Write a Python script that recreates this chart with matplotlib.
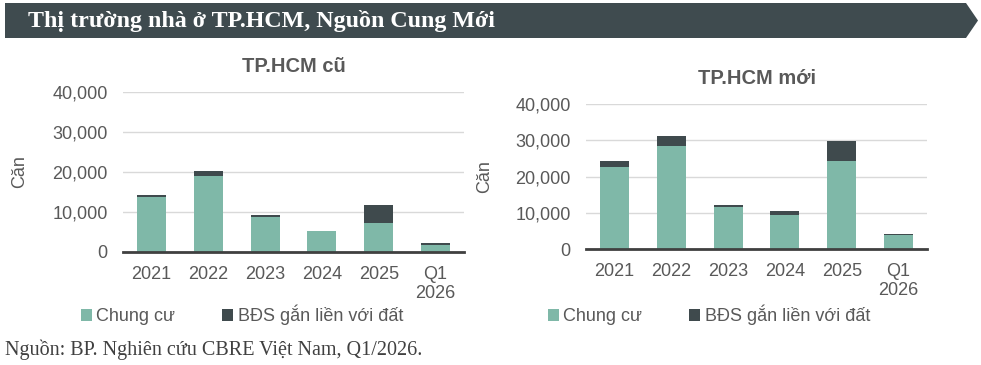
import matplotlib
matplotlib.use("Agg")
import matplotlib.pyplot as plt
from matplotlib.patches import Polygon, Patch

categories = ["2021", "2022", "2023", "2024", "2025", "Q1\n2026"]
old_apartment = [13700, 18900, 8700, 5200, 7200, 1700]
old_landed = [600, 1400, 500, 100, 4600, 500]
new_apartment = [22700, 28500, 11600, 9400, 24300, 3900]
new_landed = [1500, 2700, 500, 1000, 5600, 200]
series_names = ["Chung cư", "BĐS gắn liền với đất"]
titles = ["TP.HCM cũ", "TP.HCM mới"]
yticks = [0, 10000, 20000, 30000, 40000]

W, H = 981, 365
TEAL = "#7FB8A8"
DARK = "#3F4A4D"
TXT = "#595959"

plt.rcParams["font.family"] = ["Liberation Sans", "DejaVu Sans"]
fig = plt.figure(figsize=(W / 100, H / 100), dpi=100)

def fx(x):
    return x / W

def fy(y):
    return 1 - y / H

# header band
band = Polygon([(fx(5), fy(3)), (fx(966), fy(3)), (fx(978), fy(20.5)),
                (fx(966), fy(38)), (fx(5), fy(38))], closed=True,
               transform=fig.transFigure, facecolor="#3F4B4F", edgecolor="none")
fig.patches.append(band)
fig.text(fx(28), fy(21), "Thị trường nhà ở TP.HCM, Nguồn Cung Mới", color="white",
         fontsize=17.3, fontweight="bold", family=["Liberation Serif", "DejaVu Serif"],
         va="center", ha="left")

def draw(box, apt, landed, title, title_y, ylab_x, legend_x):
    x0, y0, x1, y1 = box
    ax = fig.add_axes([fx(x0), fy(y1), fx(x1 - x0), (y1 - y0) / H])
    xs = range(len(categories))
    ax.bar(xs, apt, width=0.51, color=TEAL, zorder=3)
    ax.bar(xs, landed, width=0.51, bottom=apt, color=DARK, zorder=3)
    ax.set_xlim(-0.5, len(categories) - 0.5)
    ax.set_ylim(0, 40000)
    ax.set_yticks(yticks)
    ax.set_yticklabels([f"{v:,}" for v in yticks])
    ax.set_xticks(list(xs))
    ax.set_xticklabels(categories)
    ax.tick_params(length=0, labelsize=13, colors=TXT)
    ax.tick_params(axis="x", pad=10)
    ax.tick_params(axis="y", pad=11)
    ax.grid(axis="y", color="#D9D9D9", linewidth=1, zorder=0)
    for s in ["top", "right", "left"]:
        ax.spines[s].set_visible(False)
    ax.spines["bottom"].set_color("#404040")
    ax.spines["bottom"].set_linewidth(2)
    ax.spines["bottom"].set_zorder(4)
    fig.text(fx((x0 + x1) / 2), fy(title_y), title, ha="center", va="center",
             fontsize=14.5, fontweight="bold", color=TXT)
    fig.text(fx(ylab_x), fy((y0 + y1) / 2), "Căn", rotation=90, ha="center",
             va="center", fontsize=13, color=TXT)
    handles = [Patch(facecolor=TEAL), Patch(facecolor=DARK)]
    fig.legend(handles, series_names, loc="center left",
               bbox_to_anchor=(fx(legend_x), fy(315)), ncol=2, frameon=False,
               fontsize=13, labelcolor=TXT, handlelength=0.6, handleheight=0.6,
               handletextpad=0.25, columnspacing=2.6, borderaxespad=0, borderpad=0)
    return ax

draw((123, 92, 464, 252), old_apartment, old_landed, titles[0], 66, 20, 81)
draw((586, 104, 927, 249), new_apartment, new_landed, titles[1], 78, 485, 548)

fig.text(fx(5), fy(350), "Nguồn: BP. Nghiên cứu CBRE Việt Nam, Q1/2026.",
         family=["Liberation Serif", "DejaVu Serif"], fontsize=14.5, color="#404040",
         ha="left", va="center")

fig.savefig("out.png", dpi=100)
